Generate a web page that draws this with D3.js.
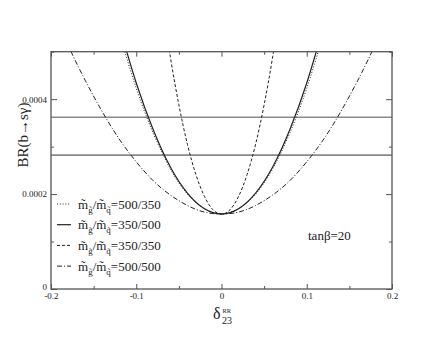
<!DOCTYPE html>
<html>
<head>
<meta charset="utf-8">
<script src="https://d3js.org/d3.v7.min.js"></script>
<style>
  body { margin: 0; background: #fff; }
  svg text { font-family: "Liberation Serif", "Times New Roman", Times, "DejaVu Serif", serif !important; fill: #222; }
</style>
</head>
<body>
<div id="chart"></div>
<script>
// delta_23^RR values shared by the curves
var deltaWide = [-0.2, -0.18, -0.16, -0.14, -0.12, -0.1, -0.08, -0.06, -0.04, -0.02, 0,
                 0.02, 0.04, 0.06, 0.08, 0.1, 0.12, 0.14, 0.16, 0.18, 0.2];
var deltaMid = [-0.12, -0.1, -0.08, -0.06, -0.04, -0.02, 0, 0.02, 0.04, 0.06, 0.08, 0.1, 0.12];
var deltaNarrow = [-0.07, -0.06, -0.05, -0.04, -0.03, -0.02, -0.01, 0,
                   0.01, 0.02, 0.03, 0.04, 0.05, 0.06, 0.07];

// BR(b -> s gamma)
var br500_350 = [0.000540, 0.000423, 0.000328, 0.000253, 0.000200, 0.000169, 0.000158,
                 0.000169, 0.000200, 0.000253, 0.000328, 0.000423, 0.000540];
var br350_500 = [0.000555, 0.000434, 0.000335, 0.000257, 0.000202, 0.000169, 0.000158,
                 0.000169, 0.000202, 0.000257, 0.000335, 0.000434, 0.000555];
var br350_350 = [0.000609, 0.000489, 0.000388, 0.000305, 0.000241, 0.000195, 0.000167, 0.000158,
                 0.000167, 0.000195, 0.000241, 0.000305, 0.000388, 0.000489, 0.000609];
var br500_500 = [0.000598, 0.000514, 0.000440, 0.000374, 0.000316, 0.000268, 0.000228, 0.000198,
                 0.000176, 0.000162, 0.000158, 0.000162, 0.000176, 0.000198, 0.000228, 0.000268,
                 0.000316, 0.000374, 0.000440, 0.000514, 0.000598];

// experimental band
var bandLimits = [0.000282, 0.000362];

var legendRatios = ["500/350", "350/500", "350/350", "500/500"];

var xTicks = [-0.2, -0.1, 0, 0.1, 0.2];
var xTickLabels = ["-0.2", "-0.1", "0", "0.1", "0.2"];
var xMinor = [-0.15, -0.05, 0.05, 0.15];
var yTicks = [0, 0.0002, 0.0004];
var yTickLabels = ["0", "0.0002", "0.0004"];
var yMinor = [0.0001, 0.0003, 0.0005];

var width = 441, height = 341;
var margin = {top: 51.7, right: 49, bottom: 52, left: 51};
var serif = "'Liberation Serif', 'Times New Roman', Times, 'DejaVu Serif', serif";

var svg = d3.select("#chart").append("svg")
    .attr("width", width)
    .attr("height", height)
    .attr("font-family", serif);

var x = d3.scaleLinear().domain([-0.2, 0.2]).range([margin.left, width - margin.right]);
var y = d3.scaleLinear().domain([0, 0.0005]).range([height - margin.bottom, margin.top]);

svg.append("clipPath").attr("id", "plotclip")
  .append("rect")
    .attr("x", x(-0.2)).attr("y", y(0.0005))
    .attr("width", x(0.2) - x(-0.2)).attr("height", y(0) - y(0.0005));

var plot = svg.append("g").attr("clip-path", "url(#plotclip)");

// horizontal band lines
plot.selectAll(".band")
  .data(bandLimits)
  .enter().append("line")
    .attr("x1", x(-0.2)).attr("x2", x(0.2))
    .attr("y1", function(d) { return y(d); })
    .attr("y2", function(d) { return y(d); })
    .attr("stroke", "#8a8a8a")
    .attr("stroke-width", 1.6);

var series = [
  {xs: deltaMid, ys: br500_350, dash: "1,1.8", w: 1},
  {xs: deltaMid, ys: br350_500, dash: null, w: 1.2},
  {xs: deltaNarrow, ys: br350_350, dash: "3,2", w: 1},
  {xs: deltaWide, ys: br500_500, dash: "5,2,1,2", w: 1}
];

var line = d3.line()
    .x(function(d) { return x(d[0]); })
    .y(function(d) { return y(d[1]); })
    .curve(d3.curveNatural);

series.forEach(function(s) {
  plot.append("path")
    .datum(d3.zip(s.xs, s.ys))
    .attr("fill", "none")
    .attr("stroke", "#222")
    .attr("stroke-width", s.w)
    .attr("stroke-dasharray", s.dash)
    .attr("d", line);
});

// axes: inward ticks on all four sides
function styleAxis(g) {
  g.attr("font-family", serif).attr("font-size", 9);
  g.select(".domain").remove();
  g.selectAll(".tick line").attr("stroke", "#555").attr("stroke-width", 1);
  g.selectAll(".tick text").attr("fill", "#222");
}

svg.append("g")
  .attr("transform", "translate(0," + y(0) + ")")
  .call(d3.axisBottom(x).tickValues(xTicks).tickSize(-5).tickPadding(4)
        .tickFormat(function(d, i) { return xTickLabels[i]; }))
  .call(styleAxis);
svg.append("g")
  .attr("transform", "translate(0," + y(0) + ")")
  .call(d3.axisBottom(x).tickValues(xMinor).tickSize(-3).tickFormat(""))
  .call(styleAxis);
svg.append("g")
  .attr("transform", "translate(0," + y(0.0005) + ")")
  .call(d3.axisTop(x).tickValues(xTicks).tickSize(-5).tickFormat(""))
  .call(styleAxis);
svg.append("g")
  .attr("transform", "translate(0," + y(0.0005) + ")")
  .call(d3.axisTop(x).tickValues(xMinor).tickSize(-3).tickFormat(""))
  .call(styleAxis);

var yAxisG = svg.append("g")
  .attr("transform", "translate(" + x(-0.2) + ",0)")
  .call(d3.axisLeft(y).tickValues(yTicks).tickSize(-6).tickPadding(4)
        .tickFormat(function(d, i) { return yTickLabels[i]; }))
  .call(styleAxis);
// the "0" label sits a little above the corner
yAxisG.selectAll(".tick text").filter(function(d) { return d === 0; }).attr("dy", "0.05em");
svg.append("g")
  .attr("transform", "translate(" + x(-0.2) + ",0)")
  .call(d3.axisLeft(y).tickValues(yMinor).tickSize(-3).tickFormat(""))
  .call(styleAxis);
svg.append("g")
  .attr("transform", "translate(" + x(0.2) + ",0)")
  .call(d3.axisRight(y).tickValues(yTicks).tickSize(-6).tickFormat(""))
  .call(styleAxis);
svg.append("g")
  .attr("transform", "translate(" + x(0.2) + ",0)")
  .call(d3.axisRight(y).tickValues(yMinor).tickSize(-3).tickFormat(""))
  .call(styleAxis);

// frame
svg.append("rect")
  .attr("x", x(-0.2)).attr("y", y(0.0005))
  .attr("width", x(0.2) - x(-0.2)).attr("height", y(0) - y(0.0005))
  .attr("fill", "none")
  .attr("stroke", "#555")
  .attr("stroke-width", 1.3);

// axis titles
svg.append("text")
  .attr("transform", "translate(28,135) rotate(-90)")
  .attr("text-anchor", "middle")
  .attr("font-size", 15)
  .text("BR(b\u2192s\u03b3)");

svg.append("text").attr("x", 213).attr("y", 319).attr("font-size", 16).text("\u03b4");
svg.append("text").attr("x", 222.5).attr("y", 312.5).attr("font-size", 6.5).text("RR");
svg.append("text").attr("x", 222).attr("y", 324).attr("font-size", 10).text("23");

// legend
var legend = svg.append("g");
legendRatios.forEach(function(r, i) {
  var cy = 204 + i * 20.7;
  legend.append("line")
    .attr("x1", 57).attr("x2", 71)
    .attr("y1", cy).attr("y2", cy)
    .attr("stroke", "#222")
    .attr("stroke-width", series[i].w)
    .attr("stroke-dasharray", series[i].dash);
  var t = legend.append("text").attr("x", 78).attr("y", cy + 4.5).attr("font-size", 13);
  t.append("tspan").text("m\u0303");
  t.append("tspan").attr("dy", 4).attr("font-size", 9).text("g\u0303");
  t.append("tspan").attr("dy", -4).text("/m\u0303");
  t.append("tspan").attr("dy", 4).attr("font-size", 9).text("q\u0303");
  t.append("tspan").attr("dy", -4).text("=" + r);
});

svg.append("text").attr("x", 308).attr("y", 240).attr("font-size", 13).text("tan\u03b2=20");
</script>
</body>
</html>
